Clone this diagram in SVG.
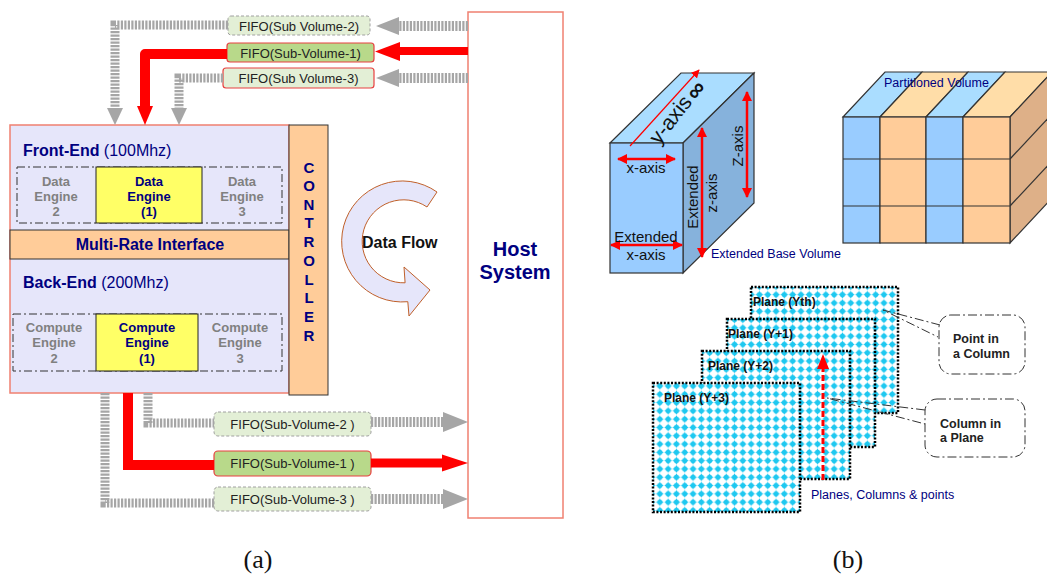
<svg xmlns="http://www.w3.org/2000/svg" width="1047" height="577" viewBox="0 0 1047 577">
<style>
text{font-family:"Liberation Sans",Arial,sans-serif}
.navy{fill:#000080}
.b{font-weight:bold}
.gray{fill:#808080}
.fifoL{fill:#e3efd6;stroke:#a0a0a0;stroke-width:1;stroke-dasharray:3 2}
.fifoR{fill:#e3efd6;stroke:#e84040;stroke-width:1.2}
.fifoD{fill:#b8d98a;stroke:#e84040;stroke-width:1.2}
.ft{font-size:13px;fill:#222;text-anchor:middle}
.hatch{fill:none;stroke:#a6a6a6;stroke-dasharray:2.2 1.3}
.redl{fill:none;stroke:#ff0000}
.ghead{fill:#a6a6a6}
.rhead{fill:#ff0000}
.dd{fill:none;stroke:#333;stroke-width:1;stroke-dasharray:8 3 2 3}
.eng{font-size:13px;font-weight:bold;text-anchor:middle}
.edge{stroke:#333;stroke-width:1.2}
.plane{stroke:#000;stroke-width:2.5;stroke-dasharray:2 1.6}
.pl{font-size:12px;font-weight:bold;fill:#111}
.call{fill:none;stroke:#333;stroke-width:1;stroke-dasharray:9 3 2 3}
.ct{font-size:12.5px;font-weight:bold;fill:#222}
.ax{font-size:15px;fill:#111}
</style>
<defs>
<pattern id="dots" x="0" y="0" width="8.3" height="8.3" patternUnits="userSpaceOnUse">
<rect width="8.3" height="8.3" fill="#fff"/>
<path d="M4.15 0.2 Q5 3.3 8.1 4.15 Q5 5 4.15 8.1 Q3.3 5 0.2 4.15 Q3.3 3.3 4.15 0.2Z" fill="#1ec8f0"/>
<circle cx="4.15" cy="4.15" r="2.6" fill="#1ec8f0"/>
</pattern>
<marker id="ra" viewBox="0 0 10 10" refX="9" refY="5" markerWidth="4" markerHeight="4" orient="auto-start-reverse" markerUnits="strokeWidth">
<path d="M0 0L10 5L0 10Z" fill="#ff0000"/>
</marker>
<marker id="ra2" viewBox="0 0 10 10" refX="9" refY="5" markerWidth="7" markerHeight="7" orient="auto-start-reverse" markerUnits="strokeWidth">
<path d="M0 0L10 5L0 10Z" fill="#ff0000"/>
</marker>
</defs>

<!-- Host System -->
<g id="host">
<rect x="468" y="12" width="95" height="506" fill="#fff" stroke="#f08070" stroke-width="1.5"/>
<text x="515" y="256" class="navy b" font-size="20" text-anchor="middle">Host</text>
<text x="515" y="279" class="navy b" font-size="20" text-anchor="middle">System</text>
</g>

<!-- Main block -->
<g id="mainbox">
<rect x="10" y="125" width="279" height="268" fill="#e6e6fa" stroke="#f08070" stroke-width="1.5"/>
</g>
<g id="frontend">
<text x="23" y="156" class="navy" font-size="16"><tspan font-weight="bold">Front-End</tspan>  (100Mhz)</text>
<rect x="17" y="167" width="265" height="56" class="dd"/>
</g>
<g id="dataengine2"><text class="eng gray"><tspan x="56" y="185.5">Data</tspan><tspan x="56" y="200.5">Engine</tspan><tspan x="56" y="215.5">2</tspan></text></g>
<g id="dataengine1">
<rect x="96" y="167" width="106" height="56" fill="#ffff66" stroke="#222" stroke-width="1"/>
<text class="eng navy"><tspan x="149" y="185.5">Data</tspan><tspan x="149" y="200.5">Engine</tspan><tspan x="149" y="215.5">(1)</tspan></text>
</g>
<g id="dataengine3"><text class="eng gray"><tspan x="242" y="185.5">Data</tspan><tspan x="242" y="200.5">Engine</tspan><tspan x="242" y="215.5">3</tspan></text></g>
<g id="multirate">
<rect x="10" y="230" width="279" height="29" fill="#ffcc99" stroke="#333" stroke-width="1"/>
<text x="150" y="250" class="navy b" font-size="16" text-anchor="middle">Multi-Rate Interface</text>
</g>
<g id="backend">
<text x="23" y="288" class="navy" font-size="16"><tspan font-weight="bold">Back-End</tspan> (200Mhz)</text>
<rect x="13" y="314" width="269" height="57" class="dd"/>
</g>
<g id="computeengine2"><text class="eng gray"><tspan x="54" y="331.5">Compute</tspan><tspan x="54" y="347">Engine</tspan><tspan x="54" y="362.5">2</tspan></text></g>
<g id="computeengine1">
<rect x="96" y="314" width="102" height="57" fill="#ffff66" stroke="#222" stroke-width="1"/>
<text class="eng navy"><tspan x="147" y="331.5">Compute</tspan><tspan x="147" y="347">Engine</tspan><tspan x="147" y="362.5">(1)</tspan></text>
</g>
<g id="computeengine3"><text class="eng gray"><tspan x="240" y="331.5">Compute</tspan><tspan x="240" y="347">Engine</tspan><tspan x="240" y="362.5">3</tspan></text></g>
<g id="controller">
<rect x="289" y="125" width="39" height="270" fill="#ffcc99" stroke="#333" stroke-width="1"/>
<text class="navy b" font-size="15" text-anchor="middle">
<tspan x="309" y="172.5">C</tspan><tspan x="309" y="191">O</tspan><tspan x="309" y="209.5">N</tspan><tspan x="309" y="228">T</tspan><tspan x="309" y="247">R</tspan><tspan x="309" y="266">O</tspan><tspan x="309" y="284.5">L</tspan><tspan x="309" y="303">L</tspan><tspan x="309" y="322">E</tspan><tspan x="309" y="340.5">R</tspan>
</text>
</g>

<!-- Data flow -->
<g id="dataflow">
<path d="M437 192 A60.5 60.5 0 1 0 407.8 301.7 L409 316 L430 290 L404 267 L405.1 282.8 A41.5 41.5 0 1 1 427 207 Z" fill="#e6e6fa" stroke="#c0602a" stroke-width="1"/>
<text x="362" y="248" class="b" font-size="16" fill="#111">Data Flow</text>
</g>

<!-- FIFOs -->
<g id="fifo-top-2"><rect x="228" y="16" width="142" height="19" rx="3" class="fifoL"/><text x="299" y="30.5" class="ft">FIFO(Sub Volume-2)</text></g>
<g id="fifo-top-1"><rect x="227" y="43" width="147" height="19" rx="3" class="fifoD"/><text x="300.5" y="57.5" class="ft">FIFO(Sub-Volume-1)</text></g>
<g id="fifo-top-3"><rect x="223" y="68" width="151" height="20" rx="3" class="fifoR"/><text x="298.5" y="83" class="ft">FIFO(Sub Volume-3)</text></g>
<g id="fifo-bot-2"><rect x="214" y="412" width="157" height="24" rx="4" class="fifoL"/><text x="292.5" y="428.5" class="ft">FIFO(Sub-Volume-2 )</text></g>
<g id="fifo-bot-1"><rect x="214" y="451" width="157" height="25" rx="4" class="fifoD"/><text x="292.5" y="468" class="ft">FIFO(Sub-Volume-1 )</text></g>
<g id="fifo-bot-3"><rect x="214" y="487" width="157" height="24" rx="4" class="fifoL"/><text x="292.5" y="503.5" class="ft">FIFO(Sub-Volume-3 )</text></g>

<!-- Connectors -->
<g id="connectors">
<!-- top gray 2 -->
<path d="M468 26 H398" class="hatch" stroke-width="10"/>
<path d="M376 26 L399 17 L399 35 Z" class="ghead"/>
<path d="M228 25 H115 V108" class="hatch" stroke-width="9"/>
<path d="M107 108 L123 108 L115 125 Z" class="ghead"/>
<!-- top red 1 -->
<path d="M468 51 H398" class="redl" stroke-width="8"/>
<path d="M375 51.5 L400 42 L400 61 Z" class="rhead"/>
<path d="M227 54 H145 V107" class="redl" stroke-width="10" stroke-linejoin="round"/>
<path d="M137 106 L153 106 L145 125 Z" class="rhead"/>
<!-- top gray 3 -->
<path d="M468 78 H398" class="hatch" stroke-width="10"/>
<path d="M376 78 L399 69 L399 87 Z" class="ghead"/>
<path d="M223 78 H179 V108" class="hatch" stroke-width="9"/>
<path d="M171 108 L187 108 L179 125 Z" class="ghead"/>
<!-- bottom gray 2 -->
<path d="M148 393 V423 H214" class="hatch" stroke-width="9"/>
<path d="M371 422 H444" class="hatch" stroke-width="10"/>
<path d="M468 422 L443 412 L443 432 Z" class="ghead"/>
<!-- bottom red 1 -->
<path d="M128 393 V465 H214" class="redl" stroke-width="10"/>
<path d="M371 463 H444" class="redl" stroke-width="9"/>
<path d="M468 463 L442 454.5 L442 471.5 Z" class="rhead"/>
<!-- bottom gray 3 -->
<path d="M105 393 V503 H214" class="hatch" stroke-width="9"/>
<path d="M371 499 H444" class="hatch" stroke-width="10"/>
<path d="M468 499 L443 489 L443 509 Z" class="ghead"/>
</g>

<!-- (b) base volume -->
<g id="basevolume">
<polygon points="610,143 683,143 754,73 681,73" fill="#aaddff" class="edge"/>
<polygon points="683,143 754,73 754,203 683,273" fill="#86b2dc" class="edge"/>
<rect x="610" y="143" width="73" height="130" fill="#99ccff" class="edge"/>
<line x1="630" y1="146" x2="699" y2="70" stroke="#ff0000" stroke-width="1.2" marker-end="url(#ra2)"/>
<line x1="618" y1="159" x2="675" y2="159" stroke="#ff0000" stroke-width="2.5" marker-start="url(#ra)" marker-end="url(#ra)"/>
<line x1="611" y1="245" x2="682" y2="245" stroke="#ff0000" stroke-width="2.5" marker-start="url(#ra)" marker-end="url(#ra)"/>
<line x1="702" y1="128" x2="702" y2="257" stroke="#ff0000" stroke-width="2.5" marker-start="url(#ra)" marker-end="url(#ra)"/>
<line x1="747" y1="92" x2="747" y2="197" stroke="#ff0000" stroke-width="2.5" marker-start="url(#ra)" marker-end="url(#ra)"/>
<text x="676" y="124" font-size="21" fill="#111" text-anchor="middle" transform="rotate(-52 676 124)">y-axis</text>
<text x="702" y="95" font-size="24" font-weight="bold" fill="#111" text-anchor="middle" transform="rotate(-52 702 95)">∞</text>
<text x="646" y="173" class="ax" text-anchor="middle">x-axis</text>
<text x="646" y="242" class="ax" text-anchor="middle">Extended</text>
<text x="646" y="260" class="ax" text-anchor="middle">x-axis</text>
<text x="698" y="197" class="ax" text-anchor="middle" transform="rotate(-90 698 197)">Extended</text>
<text x="717" y="193" class="ax" text-anchor="middle" transform="rotate(-90 717 193)">z-axis</text>
<text x="743" y="146" class="ax" text-anchor="middle" transform="rotate(-90 743 146)">Z-axis</text>
<text x="711" y="257.5" font-size="12.5" class="navy">Extended Base Volume</text>
</g>

<!-- partitioned volume -->
<g id="partitionedvolume">
<polygon points="843,117 880,117 922,72 885,72" fill="#aaddff" class="edge"/>
<polygon points="880,117 926,117 968,72 922,72" fill="#ffdda8" class="edge"/>
<polygon points="926,117 963,117 1005,72 968,72" fill="#aaddff" class="edge"/>
<polygon points="963,117 1010,117 1052,72 1005,72" fill="#ffdda8" class="edge"/>
<polygon points="1010,117 1052,72 1052,198 1010,243" fill="#deb088" class="edge"/>
<line x1="1010" y1="159" x2="1052" y2="114" class="edge"/>
<line x1="1010" y1="206" x2="1052" y2="161" class="edge"/>
<rect x="843" y="117" width="37" height="126" fill="#99ccff" class="edge"/>
<rect x="880" y="117" width="46" height="126" fill="#ffcc99" class="edge"/>
<rect x="926" y="117" width="37" height="126" fill="#99ccff" class="edge"/>
<rect x="963" y="117" width="47" height="126" fill="#ffcc99" class="edge"/>
<line x1="843" y1="159" x2="1010" y2="159" class="edge"/>
<line x1="843" y1="206" x2="1010" y2="206" class="edge"/>
<text x="884" y="86.5" font-size="12.5" class="navy">Partitioned Volume</text>
</g>

<!-- planes -->
<g id="plane-yth">
<rect x="751" y="287" width="147" height="126" fill="url(#dots)" class="plane"/>
<text x="753" y="306" class="pl">Plane (Yth)</text>
</g>
<g id="plane-y1">
<rect x="727" y="319" width="148" height="128" fill="url(#dots)" class="plane"/>
<text x="728" y="337.5" class="pl">Plane (Y+1)</text>
</g>
<g id="plane-y2">
<rect x="702" y="351" width="148" height="128" fill="url(#dots)" class="plane"/>
<text x="708" y="369.5" class="pl">Plane (Y+2)</text>
</g>
<g id="plane-y3">
<rect x="653" y="383" width="147" height="129" fill="url(#dots)" class="plane"/>
<text x="664" y="401.5" class="pl">Plane (Y+3)</text>
</g>
<g id="column-arrow">
<line x1="823" y1="480" x2="823" y2="368" stroke="#ff0000" stroke-width="3" stroke-dasharray="6 3"/>
<path d="M817 369 L829 369 L823 354 Z" fill="#ff0000"/>
</g>
<text x="811" y="498.5" font-size="12.5" class="navy">Planes, Columns &amp; points</text>

<!-- callouts -->
<g id="callout-point">
<rect x="939" y="315" width="86" height="59" rx="12" class="call"/>
<path d="M940 325 L883 310 L938 337" class="call"/>
<text class="ct"><tspan x="953" y="342.5">Point in</tspan><tspan x="953" y="357.5">a Column</tspan></text>
</g>
<g id="callout-column">
<rect x="925" y="399" width="100" height="58" rx="12" class="call"/>
<path d="M925 410 L827 398 L925 424" class="call"/>
<text class="ct"><tspan x="940" y="427.5">Column in</tspan><tspan x="940" y="442">a Plane</tspan></text>
</g>

<text x="258" y="568" font-family="Liberation Serif, serif" font-size="26" text-anchor="middle" fill="#111" style="font-family:'Liberation Serif',serif">(a)</text>
<text x="848" y="568" font-family="Liberation Serif, serif" font-size="26" text-anchor="middle" fill="#111" style="font-family:'Liberation Serif',serif">(b)</text>
</svg>
